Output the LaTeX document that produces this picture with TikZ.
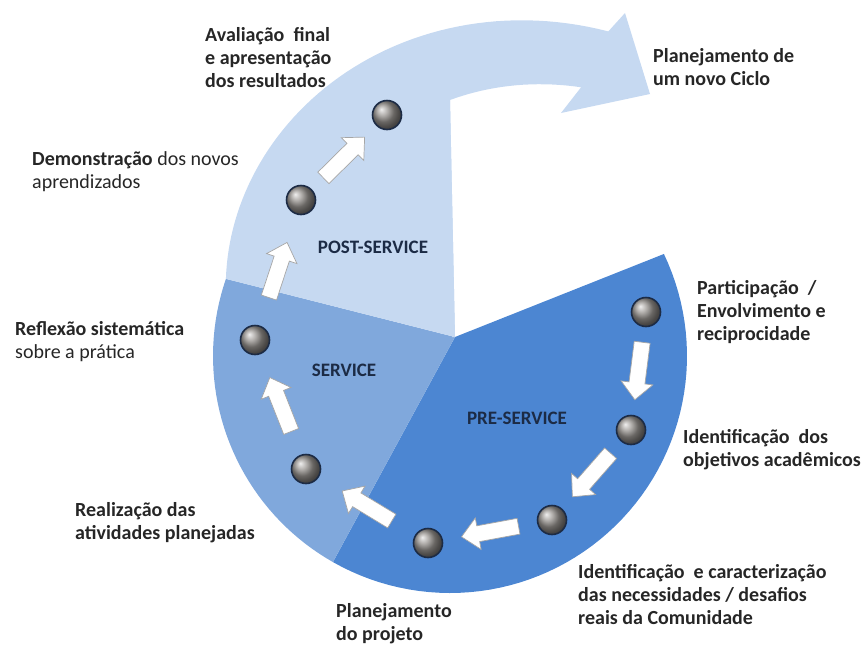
\documentclass[tikz,border=0pt]{standalone}
\usepackage{fontspec}
\setmainfont{Carlito}
\usetikzlibrary{calc}
\definecolor{predark}{HTML}{4C86D2}
\definecolor{servmid}{HTML}{80A8DC}
\definecolor{postlight}{HTML}{C6D9F1}
\definecolor{notegray}{HTML}{262626}
\definecolor{phasenavy}{HTML}{1C2B45}
\definecolor{ballgray}{RGB}{150,146,142}
\tikzset{sball/.style={circle, inner sep=0pt, minimum size=29pt, draw=phasenavy, line width=1.6pt, shading=ball, ball color=ballgray}}
\tikzset{sphase/.style={inner sep=0pt, font=\fontsize{19}{22}\selectfont\bfseries, text=phasenavy}}
\tikzset{snote/.style={anchor=west, align=left, inner sep=0pt, font=\fontsize{20}{23}\selectfont\bfseries, text=notegray}}
\tikzset{snotelight/.style={snote, font=\fontsize{20}{23}\selectfont}}
\tikzset{sarrow/.pic={\draw[fill=white, draw=black!35, line width=0.7pt] (-29,-8) -- (12,-8) -- (12,-16) -- (29,0) -- (12,16) -- (12,8) -- (-29,8) -- cycle;}}

\begin{document}
\begin{tikzpicture}[x=1pt, y=-1pt]
    \useasboundingbox (0,0) rectangle (866,646);

    \fill[predark] (455,337) -- plot[domain=-25.5:119.6, samples=60] ({450+237*cos(\x)}, {356+237*sin(\x)}) -- cycle;
    \fill[servmid] (455,337) -- plot[domain=119.6:199, samples=40] ({450+237*cos(\x)}, {356+237*sin(\x)}) -- cycle;
    \fill[postlight] (455,337) -- plot[domain=199:296, samples=60] ({450+(237+1.28*(\x-199))*cos(\x)}, {356+(237+1.28*(\x-199))*sin(\x)})
        -- (625,13) -- (650,94) -- (561,113)
        -- plot[domain=296:270, samples=20] ({450+(256+1.654*(\x-270))*cos(\x)}, {356+(256+1.654*(\x-270))*sin(\x)})
        -- cycle;
    \fill[postlight] (450,100) -- (455,337) -- (452,337) -- (447,100) -- cycle;

    \node[sphase] (post) at (373,247) {POST-SERVICE};
    \node[sphase] (serv) at (344,370) {SERVICE};
    \node[sphase] (pre) at (517,418) {PRE-SERVICE};

    \node[sball] (c1) at (387,115) {};
    \node[sball] (c2) at (301,200) {};
    \node[sball] (c3) at (255,340) {};
    \node[sball] (c4) at (306,469) {};
    \node[sball] (c5) at (428,543) {};
    \node[sball] (c6) at (552,520) {};
    \node[sball] (c7) at (631,430) {};
    \node[sball] (c8) at (646,312) {};

    \path let \p1=($(c7)-(c8)$), \n1={atan2(\y1,\x1)} in pic[rotate=\n1] at ($(c8)!0.5!(c7)$) {sarrow};
    \path let \p1=($(c6)-(c7)$), \n1={atan2(\y1,\x1)} in pic[rotate=\n1] at ($(c7)!0.5!(c6)$) {sarrow};
    \path let \p1=($(c5)-(c6)$), \n1={atan2(\y1,\x1)} in pic[rotate=\n1] at ($(c6)!0.5!(c5)$) {sarrow};
    \path let \p1=($(c4)-(c5)$), \n1={atan2(\y1,\x1)} in pic[rotate=\n1] at ($(c5)!0.5!(c4)$) {sarrow};
    \path let \p1=($(c3)-(c4)$), \n1={atan2(\y1,\x1)} in pic[rotate=\n1] at ($(c4)!0.5!(c3)$) {sarrow};
    \path let \p1=($(c2)-(c3)$), \n1={atan2(\y1,\x1)} in pic[rotate=\n1] at ($(c3)!0.5!(c2)$) {sarrow};
    \path let \p1=($(c1)-(c2)$), \n1={atan2(\y1,\x1)} in pic[rotate=\n1] at ($(c2)!0.5!(c1)$) {sarrow};

    \node[snote] (n1) at (205,58) {Avaliação~ final\\e apresentação\\dos resultados};
    \node[snote] (n0) at (653,67) {Planejamento de\\um novo Ciclo};
    \node[snotelight] (n2) at (32,172) {\textbf{Demonstração} dos novos\\aprendizados};
    \node[snotelight] (n3) at (15,342) {\textbf{Reflexão sistemática}\\sobre a prática};
    \node[snote] (n4) at (75,523) {Realização das\\atividades planejadas};
    \node[snote] (n5) at (336,624) {Planejamento\\do projeto};
    \node[snote] (n6) at (578,595) {Identificação~ e caracterização\\das necessidades / desafios\\reais da Comunidade};
    \node[snote] (n7) at (683,450) {Identificação~ dos\\objetivos acadêmicos};
    \node[snote] (n8) at (697,312) {Participação~ /\\Envolvimento e\\reciprocidade};
\end{tikzpicture}
\end{document}
